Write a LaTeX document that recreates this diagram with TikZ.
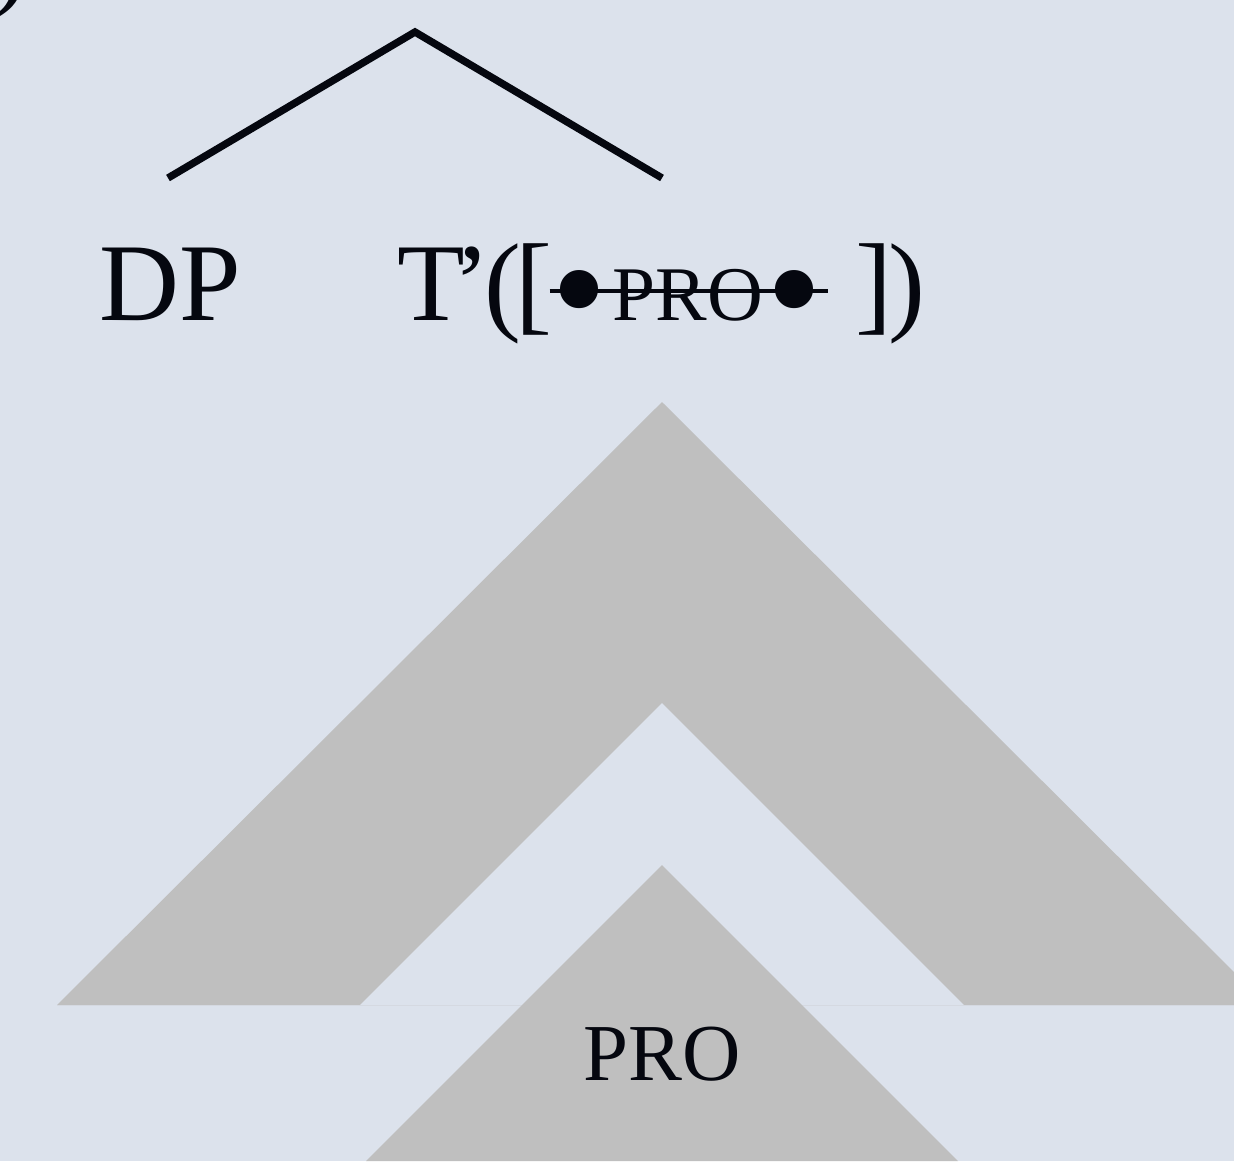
\documentclass[tikz,border=0pt]{standalone}
\usepackage{fontspec}
\setmainfont{Liberation Serif}
\definecolor{bg}{HTML}{DCE2EC}
\definecolor{tri}{HTML}{BFBFBF}
\definecolor{ink}{HTML}{05070F}
% one drawing unit
\newlength\px
\setlength\px{0.02cm}
% large bullet of the feature bundle
\newcommand\featbullet{\makebox[32\px]{\raisebox{-22\px}{\fontsize{91}{91}\selectfont•}}}
% struck-through bundle •PRO•
\newcommand\struckpro{\rlap{\rule[27\px]{278\px}{4\px}}\kern14\px\featbullet\kern17\px{\fontsize{44}{48}\selectfont PRO}\kern16\px\featbullet\kern14\px}
\begin{document}
\begin{tikzpicture}[x=\px,y=-\px,
  lab/.style={inner sep=0pt,text=ink,font=\fontsize{63}{70}\selectfont},
  branch/.style={draw=ink,line width=4.2pt}]
\fill[bg] (0,0) rectangle (1234,1161);
\useasboundingbox (0,0) rectangle (1234,1161);
\begin{scope}
\clip (0,0) rectangle (1234,1161);
% large wedge with its inner notch
\fill[tri] (662,402) -- (57,1005) -- (1267,1005) -- cycle;
\fill[bg] (662,703) -- (360,1005) -- (964,1005) -- cycle;
\draw[tri!25!bg,line width=0.5pt] (57,1005.5) -- (1234,1005.5);
% small triangle
\fill[tri] (662,865) -- (366,1161) -- (958,1161) -- cycle;
% trailing parenthesis of the example number
\node[lab,anchor=base east] (num) at (30,-5) {)};
\end{scope}
% tree
\coordinate (top) at (415,32);
\coordinate (lft) at (168,178);
\coordinate (rgt) at (662,178);
\node[lab,anchor=base] (dp) at (170,320) {DP};
\node[lab,anchor=base west] (tbar) at (397,320)
  {T\kern-12\px’\kern-5\px(\kern-6\px[\kern-3\px\struckpro\kern31\px]\kern-4\px)};
\draw[branch] (lft) -- (top) -- (rgt);
\node[lab,anchor=base,font=\fontsize{46}{50}\selectfont] (pro) at (662,1080) {PRO};
\end{tikzpicture}
\end{document}
